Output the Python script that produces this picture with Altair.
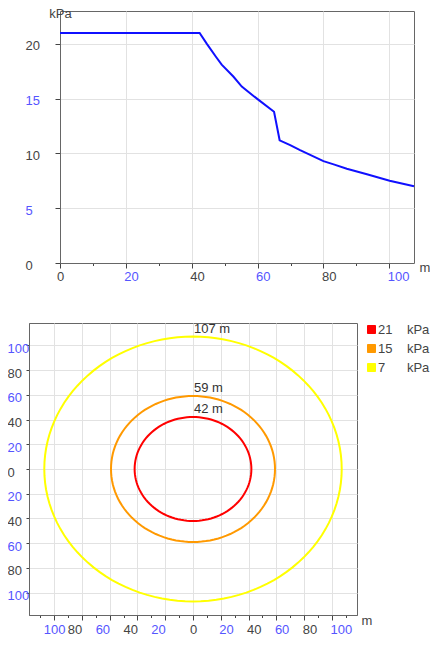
import altair as alt
import numpy as np
import pandas as pd

# ---------------- data ----------------
# Upper panel: overpressure (kPa) against distance (m)
distance_m = [0, 42.4, 44.6, 47.4, 49.1, 52.7, 55.2, 59.8, 65.0, 66.7, 69.9, 72.9,
              80.0, 83.1, 87.1, 93.2, 100.1, 107.5]
pressure_kpa = [21.0, 21.0, 20.0, 18.8, 18.1, 17.0, 16.1, 15.0, 13.8, 11.2, 10.75, 10.3,
                9.3, 9.0, 8.6, 8.1, 7.5, 7.0]

# Lower panel: contour levels and their radii
levels_kpa = ["21", "15", "7"]
radii_m = [42, 59, 107]
radius_labels = ["42 m", "59 m", "107 m"]
level_colors = ["#ff0000", "#ff9900", "#ffff00"]

# tick values
x_ticks_top = list(range(0, 101, 10))
y_ticks_top = [0, 5, 10, 15, 20]
x_ticks_bottom = list(range(-110, 111, 10))
y_ticks_bottom = list(range(-100, 101, 20))

# ---------------- style ----------------
FONT = "Liberation Sans"
GRAY = "#444444"
BLUE = "#5555ff"
FRAME = "#666666"
GRID = "#e2e2e2"
NB = "\u00a0"

curve_df = pd.DataFrame({"d": distance_m, "p": pressure_kpa})

ang = np.deg2rad(np.arange(0, 361, 3))
rows = []
for lev, r in zip(levels_kpa, radii_m):
    for i, a in enumerate(ang):
        rows.append({"level": lev, "idx": i, "x": r * np.cos(a), "y": r * np.sin(a)})
circle_df = pd.DataFrame(rows)
label_df = pd.DataFrame({"level": levels_kpa, "x": [0] * 3, "y": radii_m, "text": radius_labels})

# ---------------- upper chart ----------------
top_x_axis = alt.Axis(
    values=x_ticks_top, title="m", titleAngle=0, titleAlign="left", titleBaseline="middle",
    titleX=359, titleY=4,
    labelExpr="datum.value % 20 === 0 ? datum.label : ''",
    labelColor={"condition": {"test": "datum.value % 40 === 0", "value": GRAY}, "value": BLUE},
    labelAlign={"condition": {"test": "datum.value === 0", "value": "center"}, "value": "left"},
    labelOffset={"condition": {"test": "datum.value === 0", "value": 0}, "value": -2},
    tickSize={"condition": {"test": "datum.value % 20 === 0", "value": 5}, "value": 2.5},
    gridOpacity={"condition": {"test": "datum.value % 20 === 0", "value": 1}, "value": 0},
    labelPadding=2, grid=True, labelOverlap=False, labelFlush=False,
)
top_y_axis = alt.Axis(
    values=y_ticks_top, title="kPa", titleAngle=0, titleAlign="center", titleBaseline="middle",
    titleX=0, titleY=2,
    labelAlign="left", labelBaseline="middle", labelOffset=2, labelPadding=30, tickSize=5,
    labelColor={"condition": {"test": "datum.value % 10 === 0", "value": GRAY}, "value": BLUE},
    grid=True, labelOverlap=False, labelFlush=False,
)

top = alt.Chart(curve_df).mark_line(color="#1010ff", strokeWidth=2).encode(
    x=alt.X("d:Q", scale=alt.Scale(domain=[0, 107.5], nice=False, zero=False), axis=top_x_axis),
    y=alt.Y("p:Q", scale=alt.Scale(domain=[0, 23], nice=False), axis=top_y_axis),
).properties(width=354, height=252)

spacer = alt.Chart(pd.DataFrame({"s": [0]})).mark_point(opacity=0, size=1).properties(
    width=1, height=1, view=alt.ViewBackground(strokeOpacity=0)
)

top_row = alt.hconcat(spacer, top, spacing=30, bounds="flush")

# ---------------- lower chart ----------------
bx_axis = alt.Axis(
    values=x_ticks_bottom, title="m", titleAngle=0, titleAlign="left", titleBaseline="middle",
    titleX=332, titleY=5,
    labelExpr="datum.value % 20 === 0 ? '' + abs(datum.value) : ''",
    labelColor={"condition": {"test": "abs(datum.value) % 40 === 0", "value": GRAY}, "value": BLUE},
    labelAlign={"condition": [
        {"test": "datum.value < -90", "value": "center"},
        {"test": "datum.value < 0", "value": "right"},
        {"test": "datum.value === 0", "value": "center"}], "value": "left"},
    labelOffset={"condition": {"test": "datum.value > 0", "value": -2}, "value": 0},
    tickSize={"condition": {"test": "datum.value % 20 === 0", "value": 5}, "value": 2.5},
    gridOpacity={"condition": {"test": "datum.value % 20 === 0", "value": 1}, "value": 0},
    labelPadding=3, grid=True, labelOverlap=False, labelFlush=False,
)
by_axis = alt.Axis(
    values=y_ticks_bottom, title=None,
    labelExpr="'' + abs(datum.value)",
    labelAlign="left", labelBaseline="middle", labelOffset=3, labelPadding=19, tickSize=3,
    labelColor={"condition": {"test": "abs(datum.value) % 40 === 0", "value": GRAY}, "value": BLUE},
    grid=True, labelOverlap=False, labelFlush=False,
)
xs = alt.Scale(domain=[-118, 118], nice=False, zero=False)
ys = alt.Scale(domain=[-118, 118], nice=False, zero=False)
cscale = alt.Scale(domain=levels_kpa, range=level_colors)

X_ENC = alt.X("x:Q", scale=xs, axis=bx_axis)
Y_ENC = alt.Y("y:Q", scale=ys, axis=by_axis)

ring_legend = alt.Legend(
    title=None, orient="right", offset=8, padding=0, symbolType="square",
    symbolSize=64, symbolStrokeWidth=1, symbolOpacity=1, symbolStrokeColor="#333333",
    labelFontSize=13, labelColor=GRAY, labelOffset=0, rowPadding=5,
    labelExpr="datum.label + (length(datum.label) < 2 ? '" + NB * 2 + "' : '') + '" + NB * 4 + "kPa'",
)
COLOR_ENC = alt.Color("level:N", scale=cscale, legend=ring_legend)

legend_pts = alt.Chart(label_df).mark_square(
    opacity=0, size=1, filled=True, stroke="#333333", strokeWidth=1
).encode(
    x=X_ENC, y=Y_ENC, color=COLOR_ENC,
)

rings = alt.Chart(circle_df).mark_line(strokeWidth=2).encode(
    x=X_ENC,
    y=Y_ENC,
    color=COLOR_ENC,
    detail="level:N",
    order="idx:Q",
)

ring_labels = alt.Chart(label_df).mark_text(
    align="left", baseline="middle", dx=1, dy=-8, fontSize=13, color="#333333"
).encode(
    x=X_ENC,
    y=Y_ENC,
    text="text:N",
)

bottom = alt.layer(legend_pts, rings, ring_labels).properties(width=328, height=292)

chart = alt.vconcat(top_row, bottom, spacing=38).resolve_scale(
    color="independent"
).resolve_legend(color="independent").properties(
    padding={"left": -2, "top": -2, "right": -1, "bottom": -2}
).configure(font=FONT).configure_view(
    stroke=FRAME, strokeWidth=1
).configure_axis(
    labelFont=FONT, titleFont=FONT, labelFontSize=13, titleFontSize=13,
    titleFontWeight="normal", titleColor=GRAY, domainColor=FRAME, tickColor=GRAY,
    gridColor=GRID, labelColor=GRAY,
).configure_legend(labelFont=FONT)

chart.save("out.html", embed_options={"renderer": "svg", "actions": False})
